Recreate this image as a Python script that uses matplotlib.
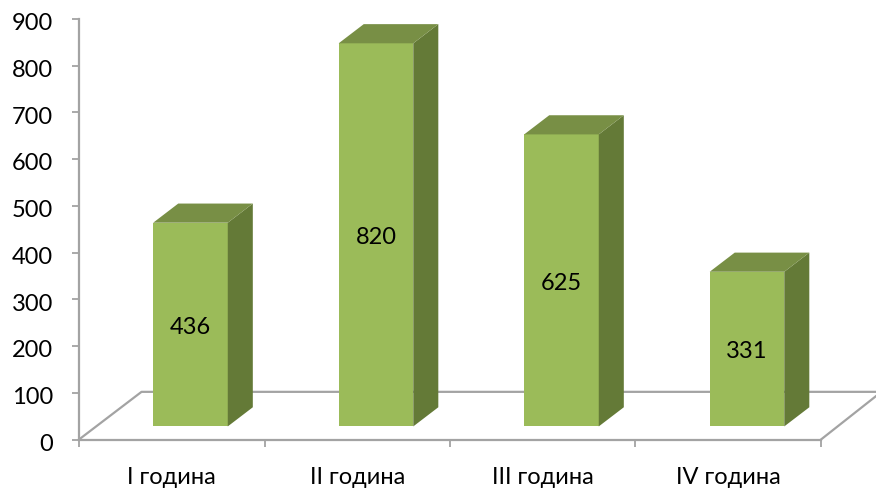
# -*- coding: utf-8 -*-
import matplotlib
matplotlib.use('Agg')
import matplotlib.pyplot as plt
from matplotlib.patches import Polygon
from matplotlib.transforms import ScaledTranslation

plt.rcParams['font.family'] = ['Lato', 'DejaVu Sans']

categories = ['I година', 'II година', 'III година', 'IV година']
values = [436, 820, 625, 331]
yticks = [0, 100, 200, 300, 400, 500, 600, 700, 800, 900]

W, H = 876, 491
fig = plt.figure(figsize=(W / 100, H / 100), dpi=100)
ax = fig.add_axes([79 / W, (H - 439.5) / H, 742 / W, 420.5 / H])
ax.set_xlim(0, 4)
ax.set_ylim(0, 900)

grey = '#a3a3a3'
front = '#9bbb59'
side = '#647a37'
top = '#788f45'

# 3d offsets in data units
dx, dy = 0.135, 41
floor_dx, floor_dy = 0.337, 102
base = 28
width = 0.402
left = 0.4

# floor
ax.plot([0, floor_dx, 4 + floor_dx - 0.04], [0, floor_dy, floor_dy],
        color=grey, lw=1.6, clip_on=False, zorder=1)
ax.plot([4, 4 + floor_dx - 0.04], [0, floor_dy - 9],
        color=grey, lw=1.6, clip_on=False, zorder=1)

# bars
for i, v in enumerate(values):
    x0 = i + left
    x1 = x0 + width
    y1 = base + v
    ax.bar(x0, v, width=width, bottom=base, align='edge', color=front, zorder=3)
    ax.add_patch(Polygon([(x1, base), (x1 + dx, base + dy), (x1 + dx, y1 + dy), (x1, y1)],
                         closed=True, facecolor=side, edgecolor='none', zorder=3, clip_on=False))
    ax.add_patch(Polygon([(x0, y1), (x0 + dx, y1 + dy), (x1 + dx, y1 + dy), (x1, y1)],
                         closed=True, facecolor=top, edgecolor='none', zorder=3, clip_on=False))
    ax.annotate(str(v), (x0 + width / 2, base + v / 2), xytext=(0, -2), textcoords='offset points',
                ha='center', va='center', fontsize=17, color='black', zorder=4)

for s in ['top', 'right']:
    ax.spines[s].set_visible(False)
for s in ['left', 'bottom']:
    ax.spines[s].set_color(grey)
    ax.spines[s].set_linewidth(1.6)

ax.set_yticks(yticks)
ax.set_xticks(range(5))
ax.set_xticklabels([])
ax.tick_params(axis='both', color=grey, width=1.3, length=5, labelsize=17, pad=13.5)

# labels sit slightly below their ticks
shift = ScaledTranslation(0, -2 / 72, fig.dpi_scale_trans)
for lab in ax.get_yticklabels():
    lab.set_transform(lab.get_transform() + shift)

for i, c in enumerate(categories):
    ax.annotate(c, (i + 0.5, 0), xytext=(0, -27), textcoords='offset points',
                ha='center', va='center', fontsize=17, annotation_clip=False)

fig.savefig('out.png', dpi=100)
